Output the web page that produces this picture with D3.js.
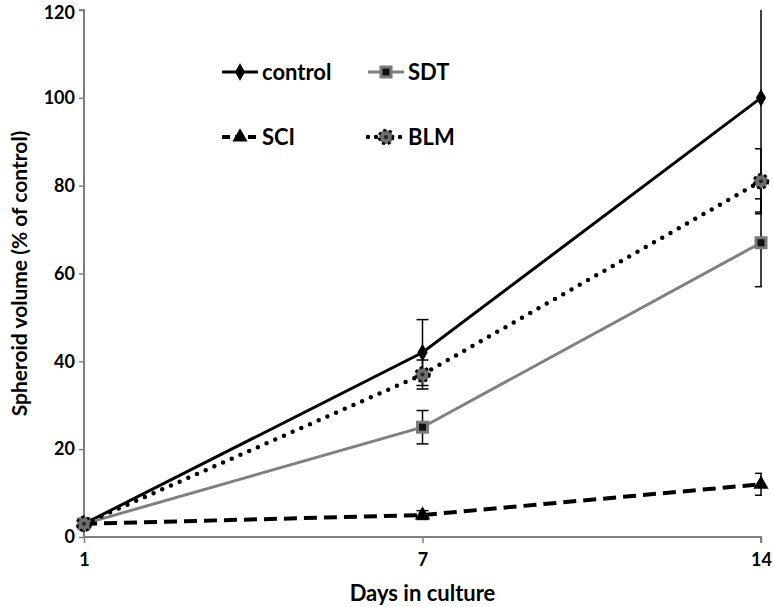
<!DOCTYPE html>
<html>
<head>
<meta charset="utf-8">
<script src="https://cdn.jsdelivr.net/npm/d3@7"></script>
<style>
  body { margin: 0; background: #fff; }
  text { font-family: Lato, "Open Sans", sans-serif; font-weight: bold; fill: #000; }
</style>
</head>
<body>
<svg id="chart" width="773" height="607"></svg>
<script>
const width = 773;
const height = 607;
const margin = { top: 10, right: 12, bottom: 70, left: 84 };

// data
const days = ["1", "7", "14"];
const control = [3, 42, 100];
const controlErr = [1, 7.5, 26];
const sdt = [3, 25, 67];
const sdtErr = [0.8, 3.8, 10];
const sci = [3, 5, 12];
const sciErr = [0.5, 1, 2.5];
const blm = [3, 37, 81];
const blmErr = [0.8, 3.3, 7.4];
const yTicks = [0, 20, 40, 60, 80, 100, 120];

const svg = d3.select("#chart");

const x = d3.scalePoint()
    .domain(days)
    .range([margin.left, width - margin.right]);

const y = d3.scaleLinear()
    .domain([0, 120])
    .range([height - margin.bottom, margin.top]);

// clip so caps at the right edge get cut like the original
svg.append("clipPath").attr("id", "plotclip")
    .append("rect")
    .attr("x", 0).attr("y", y(120))
    .attr("width", x("14") + 1).attr("height", y(0) - y(120));

// axes
const yAxis = svg.append("g")
    .attr("transform", `translate(${margin.left},0)`)
    .call(d3.axisLeft(y).tickValues(yTicks).tickSize(5).tickPadding(4));

const xAxis = svg.append("g")
    .attr("transform", `translate(0,${y(0)})`)
    .call(d3.axisBottom(x).tickSize(6).tickPadding(10));

for (const ax of [yAxis, xAxis]) {
    ax.select(".domain").attr("stroke", "#7f7f7f").attr("stroke-width", 2);
    ax.selectAll(".tick line").attr("stroke", "#7f7f7f").attr("stroke-width", 1.5);
    ax.selectAll(".tick text").attr("font-size", 18).attr("fill", "#000");
}
xAxis.select(".domain").attr("d", `M${x("1")},0H${x("14")}V6`);
yAxis.select(".domain").attr("d", `M-5,${y(120)}H0V${y(0)}`);
// top label sits against the edge, nudge it down so it stays inside
yAxis.selectAll(".tick text").filter(d => d === 120).attr("y", 3);

// axis titles
svg.append("text")
    .attr("x", x("7"))
    .attr("y", 601)
    .attr("text-anchor", "middle")
    .attr("font-size", 22)
    .text("Days in culture");

svg.append("text")
    .attr("transform", `translate(27,${(y(0) + y(120)) / 2}) rotate(-90)`)
    .attr("text-anchor", "middle")
    .attr("font-size", 21)
    .text("Spheroid volume (% of control)");

const series = [
    { name: "control", values: control, err: controlErr, color: "#000", width: 3, dash: null, cap: "butt", marker: "diamond" },
    { name: "SDT", values: sdt, err: sdtErr, color: "#808080", width: 3, dash: null, cap: "butt", marker: "square" },
    { name: "SCI", values: sci, err: sciErr, color: "#000", width: 4, dash: "13,7", cap: "butt", marker: "triangle" },
    { name: "BLM", values: blm, err: blmErr, color: "#000", width: 4.5, dash: "0,9.5", cap: "round", marker: "circle" }
];

const line = d3.line()
    .x((d, i) => x(days[i]))
    .y(d => y(d));

function drawMarker(g, type, cx, cy) {
    if (type === "diamond") {
        g.append("path")
            .attr("d", d3.symbol(d3.symbolDiamond, 90)())
            .attr("transform", `translate(${cx},${cy})`)
            .attr("fill", "#000");
    } else if (type === "square") {
        g.append("rect")
            .attr("x", cx - 5).attr("y", cy - 5)
            .attr("width", 10).attr("height", 10)
            .attr("fill", "#111").attr("stroke", "#7a7a7a").attr("stroke-width", 3);
    } else if (type === "triangle") {
        g.append("path")
            .attr("d", d3.symbol(d3.symbolTriangle, 100)())
            .attr("transform", `translate(${cx},${cy})`)
            .attr("fill", "#000");
    } else {
        g.append("circle")
            .attr("cx", cx).attr("cy", cy).attr("r", 7)
            .attr("fill", "#6e6e6e")
            .attr("stroke", "#000").attr("stroke-width", 2.5)
            .attr("stroke-dasharray", "3,3");
        g.append("circle")
            .attr("cx", cx).attr("cy", cy).attr("r", 2)
            .attr("fill", "#222");
    }
}

for (const s of series) {
    const g = svg.append("g");

    // error bars
    const eb = g.append("g").attr("clip-path", "url(#plotclip)")
        .attr("stroke", "#000").attr("stroke-width", 1.5);
    s.values.forEach((v, i) => {
        const cx = x(days[i]);
        const top = y(v + s.err[i]);
        const bot = y(v - s.err[i]);
        eb.append("line").attr("x1", cx).attr("x2", cx).attr("y1", top).attr("y2", bot);
        eb.append("line").attr("x1", cx - 6).attr("x2", cx + 6).attr("y1", top).attr("y2", top);
        eb.append("line").attr("x1", cx - 6).attr("x2", cx + 6).attr("y1", bot).attr("y2", bot);
    });

    g.append("path")
        .datum(s.values)
        .attr("d", line)
        .attr("fill", "none")
        .attr("stroke", s.color)
        .attr("stroke-width", s.width)
        .attr("stroke-linecap", s.cap)
        .attr("stroke-dasharray", s.dash);

    s.values.forEach((v, i) => drawMarker(g, s.marker, x(days[i]), y(v)));
}

// legend
const legendPos = [
    { x: 222, y: 72 },
    { x: 368, y: 72 },
    { x: 222, y: 137 },
    { x: 368, y: 137 }
];
series.forEach((s, i) => {
    const p = legendPos[i];
    const g = svg.append("g");
    g.append("line")
        .attr("x1", p.x).attr("x2", p.x + 36)
        .attr("y1", p.y).attr("y2", p.y)
        .attr("stroke", s.color)
        .attr("stroke-width", s.width)
        .attr("stroke-linecap", s.cap)
        .attr("stroke-dasharray", s.name === "SCI" ? "8,5" : s.name === "BLM" ? "0,8" : null);
    drawMarker(g, s.marker, p.x + 18, p.y);
    g.append("text")
        .attr("x", p.x + 40)
        .attr("y", p.y + 8)
        .attr("font-size", 22)
        .text(s.name);
});
</script>
</body>
</html>
